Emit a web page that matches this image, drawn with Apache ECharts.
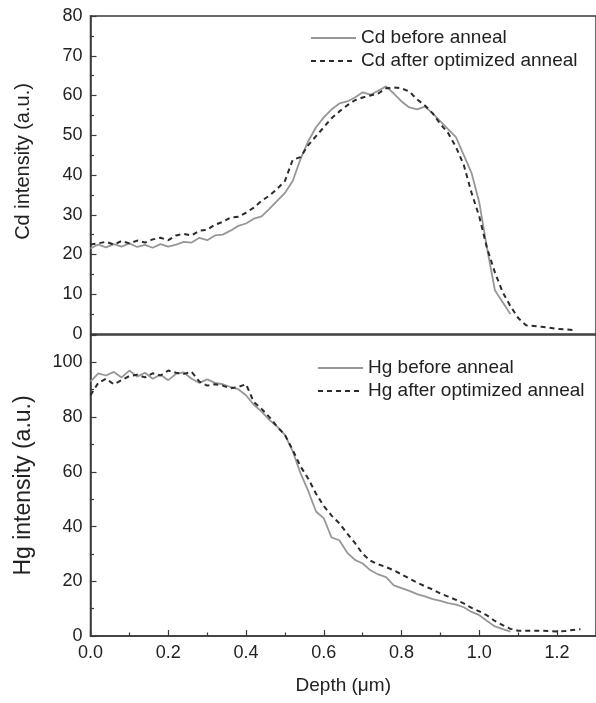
<!DOCTYPE html>
<html><head><meta charset="utf-8">
<script src="https://cdn.jsdelivr.net/npm/echarts@6/dist/echarts.min.js"></script>
<style>html,body{margin:0;padding:0;background:#fff}#c{width:596px;height:703px}</style>
</head><body><div id="c"></div>
<script>
const depth = [0,0.02,0.04,0.06,0.08,0.10,0.12,0.14,0.16,0.18,0.20,0.22,0.24,0.26,0.28,0.30,0.32,0.34,0.36,0.38,0.40,0.42,0.44,0.46,0.48,0.50,0.52,0.54,0.56,0.58,0.60,0.62,0.64,0.66,0.68,0.70,0.72,0.74,0.76,0.78,0.80,0.82,0.84,0.86,0.88,0.90,0.92,0.94,0.96,0.98,1.00,1.02,1.04,1.06,1.08,1.10,1.12,1.14,1.16,1.18,1.20,1.22,1.24,1.26];

const cdBefore = [21.5,22.5,21.8,22.6,22.0,22.8,21.9,22.4,21.7,22.6,22.0,22.5,23.2,23.0,24.2,23.6,24.8,25.0,26.0,27.2,27.8,29.0,29.6,31.5,33.5,35.5,38.5,44.0,48.5,52.0,54.5,56.5,58.0,58.5,59.5,60.8,60.2,61.2,62.3,60.5,58.5,57.0,56.5,57.2,55.5,53.5,51.5,49.5,45.0,40.5,33.0,21.5,11.0,8.0,5.0];
const cdAfter = [22.5,22.8,23.2,22.5,23.4,22.8,23.5,23.0,23.8,24.2,23.6,24.8,25.2,24.8,26.0,26.2,27.5,28.2,29.3,29.5,30.5,31.8,33.5,34.8,36.5,38.5,43.8,44.5,47.5,49.8,52.0,54.3,56.0,57.5,58.8,59.5,60.0,60.5,61.8,62.0,61.8,61.0,59.0,57.5,55.5,52.8,50.5,47.0,42.5,35.5,29.5,21.5,15.5,10.5,7.0,4.0,2.2,2.0,1.8,1.6,1.3,1.2,1.0];
const hgBefore = [93.0,96.0,95.2,96.5,94.5,97.0,94.8,96.2,94.0,95.5,93.5,95.8,96.3,94.0,92.5,93.8,92.5,92.0,91.0,90.2,88.0,84.5,82.0,79.0,76.5,73.5,67.5,59.5,53.0,45.5,43.0,36.0,35.0,30.5,27.8,26.5,24.0,22.5,21.5,18.5,17.5,16.5,15.3,14.5,13.5,12.8,12.0,11.5,10.5,8.8,7.6,5.5,3.5,2.5,1.6];
const hgAfter = [88.0,92.5,94.0,92.0,93.5,95.0,95.5,94.5,96.0,95.2,97.0,96.2,95.8,96.5,93.0,91.5,92.0,91.5,90.5,91.0,92.0,85.5,83.0,80.0,76.5,73.5,68.0,62.0,57.5,52.0,47.5,44.0,41.2,37.5,34.0,30.0,27.5,26.2,25.2,24.0,22.5,21.0,19.5,18.2,17.0,15.5,14.4,13.2,11.9,10.3,9.0,7.5,5.5,4.0,2.6,1.9,1.9,1.9,1.9,1.8,1.6,1.8,2.2,2.5];

const xTicks = {min:0, max:1.3, interval:0.2};
const cdTicks = {min:0, max:80, interval:10};
const hgTicks = {min:0, max:110, interval:20};

const names = {
  cdB:'Cd before anneal', cdA:'Cd after optimized anneal',
  hgB:'Hg before anneal', hgA:'Hg after optimized anneal',
  x:'Depth (μm)', cdY:'Cd intensity (a.u.)', hgY:'Hg intensity (a.u.)'
};

function pairs(ys){ return ys.map((y,i)=>[depth[i], y]); }

const FONT = 'Liberation Sans, Arial, sans-serif';
const AX = '#3a3a3a';
const TXT = '#222';
const SOLID = {color:'#979797', width:1.8};
const DASH = {color:'#2b2b2b', width:2, type:[5,4]};

const chart = echarts.init(document.getElementById('c'), null, {renderer:'canvas'});
const yAxisCommon = {
  type:'value',
  axisLine:{show:true, lineStyle:{color:AX, width:1.5}},
  axisTick:{show:true, inside:true, length:6, lineStyle:{color:AX, width:1.2}},
  minorTick:{show:true, splitNumber:2, length:3.5, lineStyle:{color:AX, width:1.2}},
  splitLine:{show:false},
  axisLabel:{fontSize:18, color:TXT, margin:8, fontFamily:FONT},
  nameLocation:'middle'
};
const legendCommon = {
  orient:'vertical', padding:0, itemWidth:45, itemHeight:12, itemGap:3,
  itemStyle:{color:'rgba(0,0,0,0)', borderColor:'rgba(0,0,0,0)', borderWidth:0, opacity:0},
  textStyle:{fontSize:19, color:TXT, fontFamily:FONT, lineHeight:20}
};
chart.setOption({
  animation:false,
  backgroundColor:'#fff',
  textStyle:{fontFamily:FONT},
  grid:[
    {left:90.5, right:-1.5, top:16, height:318, show:true, borderColor:AX, borderWidth:1.5},
    {left:90.5, right:-1.5, top:335, height:301, show:true, borderColor:AX, borderWidth:1.5}
  ],
  xAxis:[
    {gridIndex:0, type:'value', min:xTicks.min, max:xTicks.max, interval:xTicks.interval,
     axisLine:{show:false}, axisTick:{show:false}, axisLabel:{show:false}, splitLine:{show:false}},
    {gridIndex:1, type:'value', min:xTicks.min, max:xTicks.max, interval:xTicks.interval,
     axisLine:{show:true, lineStyle:{color:AX, width:1.5}},
     axisTick:{show:true, inside:true, length:6, lineStyle:{color:AX, width:1.2}},
     minorTick:{show:true, splitNumber:2, length:3.5, lineStyle:{color:AX, width:1.2}},
     splitLine:{show:false},
     axisLabel:{fontSize:18, color:TXT, margin:8, showMaxLabel:false, fontFamily:FONT,
                formatter:v=>v.toFixed(1)},
     name:names.x, nameLocation:'middle', nameGap:40,
     nameTextStyle:{fontSize:19, color:TXT, fontFamily:FONT}}
  ],
  yAxis:[
    Object.assign({}, yAxisCommon, {gridIndex:0, min:cdTicks.min, max:cdTicks.max, interval:cdTicks.interval,
      name:names.cdY, nameGap:57,
      nameTextStyle:{fontSize:20, color:TXT, fontFamily:FONT, padding:[0,0,0,27]}}),
    Object.assign({}, yAxisCommon, {gridIndex:1, min:hgTicks.min, max:hgTicks.max, interval:hgTicks.interval,
      name:names.hgY, nameGap:55,
      nameTextStyle:{fontSize:23, color:TXT, fontFamily:FONT},
      axisLabel:Object.assign({}, yAxisCommon.axisLabel, {showMaxLabel:false})})
  ],
  legend:[
    Object.assign({}, legendCommon, {data:[names.cdB, names.cdA], left:310, top:28}),
    Object.assign({}, legendCommon, {data:[names.hgB, names.hgA], left:317, top:358})
  ],
  series:[
    {type:'line', name:names.cdB, xAxisIndex:0, yAxisIndex:0, data:pairs(cdBefore), symbol:'none', showSymbol:false, lineStyle:SOLID, itemStyle:{color:SOLID.color}, z:2},
    {type:'line', name:names.cdA, xAxisIndex:0, yAxisIndex:0, data:pairs(cdAfter), symbol:'none', showSymbol:false, lineStyle:DASH, itemStyle:{color:DASH.color}, z:3},
    {type:'line', name:names.hgB, xAxisIndex:1, yAxisIndex:1, data:pairs(hgBefore), symbol:'none', showSymbol:false, lineStyle:SOLID, itemStyle:{color:SOLID.color}, z:2},
    {type:'line', name:names.hgA, xAxisIndex:1, yAxisIndex:1, data:pairs(hgAfter), symbol:'none', showSymbol:false, lineStyle:DASH, itemStyle:{color:DASH.color}, z:3}
  ]
});
</script>
</body></html>
